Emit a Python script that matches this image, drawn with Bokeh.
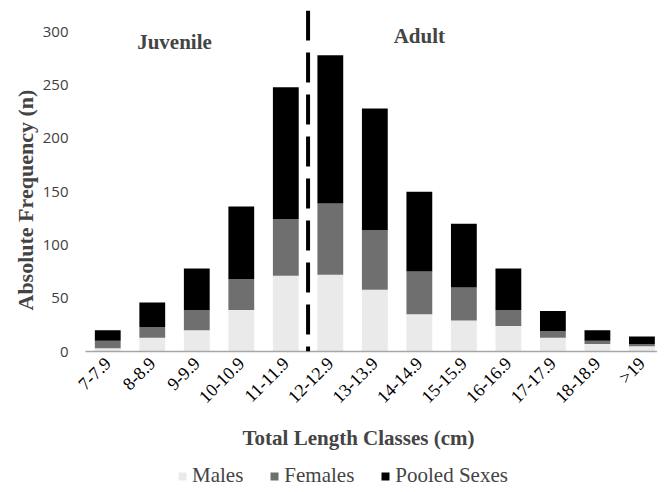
import numpy as np
from bokeh.plotting import figure
from bokeh.layouts import column
from bokeh.models import (Range1d, FixedTicker, Span, Label, Title, Legend, LegendItem,
                          ColumnDataSource)
from bokeh.embed import file_html
from bokeh.resources import INLINE

categories = ["7-7.9", "8-8.9", "9-9.9", "10-10.9", "11-11.9", "12-12.9", "13-13.9",
              "14-14.9", "15-15.9", "16-16.9", "17-17.9", "18-18.9", ">19"]
males = [3, 13, 20, 39, 71, 72, 58, 35, 29, 24, 13, 7, 5]
females = [7, 10, 19, 29, 53, 67, 56, 40, 31, 15, 6, 3, 2]
pooled = [10, 23, 39, 68, 124, 139, 114, 75, 60, 39, 19, 10, 7]
y_ticks = [0, 50, 100, 150, 200, 250, 300]
series_names = ["Males", "Females", "Pooled Sexes"]
series_colors = ["#eaeaea", "#6f6f6f", "#000000"]

x = np.arange(len(categories))
m = np.array(males)
f = np.array(females)
pl = np.array(pooled)
src = ColumnDataSource(dict(x=x, m0=np.zeros(len(x)), m1=m, f0=m, f1=m + f,
                            p0=m + f, p1=m + f + pl))

W = 657
p = figure(width=W, height=457, output_backend="svg", toolbar_location=None,
           x_range=Range1d(-0.5, 12.35), y_range=Range1d(0, 320),
           min_border_left=85, min_border_right=0, min_border_top=10,
           min_border_bottom=106)
p.outline_line_color = None
p.grid.visible = False

bw = 0.58
r_m = p.vbar(x="x", bottom="m0", top="m1", width=bw, source=src,
             fill_color=series_colors[0], line_color=None)
r_f = p.vbar(x="x", bottom="f0", top="f1", width=bw, source=src,
             fill_color=series_colors[1], line_color=None)
r_p = p.vbar(x="x", bottom="p0", top="p1", width=bw, source=src,
             fill_color=series_colors[2], line_color=None)

# y axis
ya = p.yaxis[0]
ya.ticker = FixedTicker(ticks=y_ticks)
ya.axis_line_color = None
ya.major_tick_line_color = None
ya.minor_tick_line_color = None
ya.major_tick_in = 0
ya.major_tick_out = 0
ya.major_label_standoff = 17
ya.major_label_text_font = "Open Sans"
ya.major_label_text_font_size = "15px"
ya.major_label_text_color = "#404040"

p.add_layout(Title(text="Absolute Frequency (n)", text_font="Liberation Serif",
                   text_font_style="bold", text_font_size="22px", align="left",
                   offset=41, standoff=4), "left")

# x axis
xa = p.xaxis[0]
xa.ticker = FixedTicker(ticks=list(range(len(categories))))
xa.major_label_overrides = {i: c for i, c in enumerate(categories)}
xa.major_label_orientation = np.pi / 4
xa.axis_line_color = "#a6a6a6"
xa.axis_line_width = 1.5
xa.major_tick_line_color = None
xa.minor_tick_line_color = None
xa.major_tick_in = 0
xa.major_tick_out = 0
xa.major_label_standoff = 9
xa.major_label_text_font = "Liberation Serif"
xa.major_label_text_font_size = "18px"
xa.major_label_text_color = "black"

p.add_layout(Title(text="Total Length Classes (cm)", text_font="Liberation Serif",
                   text_font_style="bold", text_font_size="21px", align="left",
                   offset=157, standoff=15), "below")

# boundary juvenile / adult
p.add_layout(Span(location=4.5, dimension="height", line_color="black",
                  line_width=4, line_dash="30 12"))
p.add_layout(Label(x=1.5, y=290, text="Juvenile", text_font="Liberation Serif",
                   text_font_style="bold", text_font_size="21px",
                   text_align="center", text_baseline="middle"))
p.add_layout(Label(x=7.0, y=296, text="Adult", text_font="Liberation Serif",
                   text_font_style="bold", text_font_size="21px",
                   text_align="center", text_baseline="middle"))

# legend strip: hidden copies of the series only provide the swatches
p2 = figure(width=W, height=33, output_backend="svg", toolbar_location=None,
            x_range=Range1d(-0.5, 12.35), y_range=Range1d(0, 320),
            x_axis_location=None, y_axis_location=None,
            min_border_left=0, min_border_right=0, min_border_top=0,
            min_border_bottom=0)
p2.outline_line_color = None
p2.grid.visible = False
l_m = p2.vbar(x="x", bottom="m0", top="m1", width=bw, source=src,
              fill_color=series_colors[0], line_color=None, visible=False)
l_f = p2.vbar(x="x", bottom="f0", top="f1", width=bw, source=src,
              fill_color=series_colors[1], line_color=None, visible=False)
l_p = p2.vbar(x="x", bottom="p0", top="p1", width=bw, source=src,
              fill_color=series_colors[2], line_color=None, visible=False)
legend = Legend(items=[LegendItem(label=series_names[0], renderers=[l_m]),
                       LegendItem(label=series_names[1], renderers=[l_f]),
                       LegendItem(label=series_names[2], renderers=[l_p])],
                orientation="horizontal", location=(92, 2),
                glyph_width=10, glyph_height=10, label_standoff=5, spacing=26,
                label_text_font="Liberation Serif", label_text_font_size="21px",
                label_height=20, padding=0, margin=0, border_line_color=None,
                background_fill_alpha=0, inactive_fill_alpha=0)
p2.add_layout(legend, "center")

layout = column(p, p2, spacing=0)
open("out.html", "w").write(file_html(layout, INLINE))
